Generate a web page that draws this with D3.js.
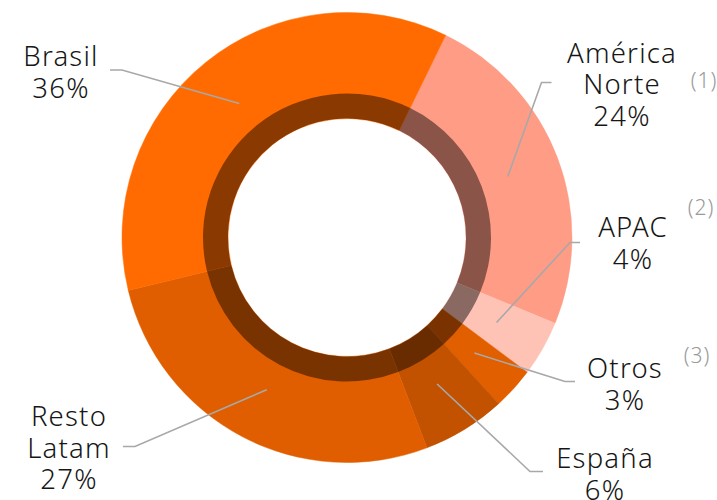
<!DOCTYPE html>
<html><head><meta charset="utf-8">
<script src="https://cdn.jsdelivr.net/npm/d3@7"></script>
<style>
html,body{margin:0;padding:0;background:#fff;}
svg{display:block;}
</style></head>
<body>
<svg id="chart" width="717" height="500"></svg>
<script>
// ---- data ----
const categories = ["América Norte", "APAC", "Otros", "España", "Resto Latam", "Brasil"];
const shares = [24, 4, 3, 6, 27, 36];
const valueLabels = ["24%", "4%", "3%", "6%", "27%", "36%"];
const notes = ["(1)", "(2)", "(3)", "", "", ""];
const colors = ["#FF9C85", "#FFC3B6", "#E25F00", "#C35200", "#E05E00", "#FF6B00"];

// ---- layout (not data) ----
const cx = 347, cy = 237.5;
const R = 225, ringOuter = 144, ringInner = 119, leaderR = 172;
const startDeg = 26;
const labelLayout = [
  {x: 622, y: 62.5, elbow: [[541.5, 82.5], [551.5, 82.5]], note: [704, 88]},
  {x: 633, y: 237, elbow: [[570, 242.5], [580, 242.5]], note: [701, 215]},
  {x: 625, y: 378, elbow: [[565, 381.5], [575, 381.5]], note: [697, 363]},
  {x: 605, y: 468, elbow: [[530, 471.5], [543, 471.5]]},
  {x: 69, y: 426, elbow: [[135, 446.5], [123, 446.5]]},
  {x: 61, y: 66, elbow: [[122, 70], [110, 70]]}
];
const nameLines = [["América", "Norte"], ["APAC"], ["Otros"], ["España"], ["Resto", "Latam"], ["Brasil"]];
const lineH = 31.5;
const fontFam = "'Noto Sans', 'Open Sans', sans-serif";

const svg = d3.select("#chart");
const g = svg.append("g").attr("transform", `translate(${cx},${cy})`);

const pie = d3.pie().sort(null).value(d => d)
  .startAngle(startDeg * Math.PI / 180)
  .endAngle(startDeg * Math.PI / 180 + 2 * Math.PI);
const arcs = pie(shares);

const outerArc = d3.arc().innerRadius(ringInner).outerRadius(R);
const ringArc = d3.arc().innerRadius(ringInner).outerRadius(ringOuter);

g.selectAll("path.slice").data(arcs).join("path")
  .attr("class", "slice")
  .attr("d", outerArc)
  .attr("fill", (d, i) => colors[i])
  .attr("stroke", (d, i) => colors[i])
  .attr("stroke-width", 0.5);

g.selectAll("path.ring").data(arcs).join("path")
  .attr("class", "ring")
  .attr("d", ringArc)
  .attr("fill", "#000")
  .attr("fill-opacity", 0.46);

// leader lines
const lines = svg.append("g");
arcs.forEach((a, i) => {
  const mid = (a.startAngle + a.endAngle) / 2;
  const px = cx + leaderR * Math.sin(mid);
  const py = cy - leaderR * Math.cos(mid);
  const L = labelLayout[i];
  lines.append("path")
    .attr("d", d3.line()([[px, py], L.elbow[0], L.elbow[1]]))
    .attr("fill", "none")
    .attr("stroke", "#A8A8A8")
    .attr("stroke-width", 1.6);
});

// labels
const labels = svg.append("g")
  .attr("font-family", fontFam)
  .attr("font-size", 27.5)
  .attr("font-weight", 300)
  .attr("letter-spacing", 1.2)
  .attr("fill", "#161616")
  .attr("text-anchor", "middle");
labelLayout.forEach((L, i) => {
  const all = nameLines[i].concat([valueLabels[i]]);
  all.forEach((s, k) => {
    labels.append("text")
      .attr("x", L.x)
      .attr("y", L.y + k * lineH)
      .text(s);
  });
  if (notes[i]) {
    svg.append("text")
      .attr("x", L.note[0]).attr("y", L.note[1])
      .attr("text-anchor", "middle")
      .attr("font-family", fontFam)
      .attr("font-weight", 300)
      .attr("font-size", 21)
      .attr("letter-spacing", 1)
      .attr("fill", "#9A9A9A")
      .text(notes[i]);
  }
});
</script>
</body></html>
